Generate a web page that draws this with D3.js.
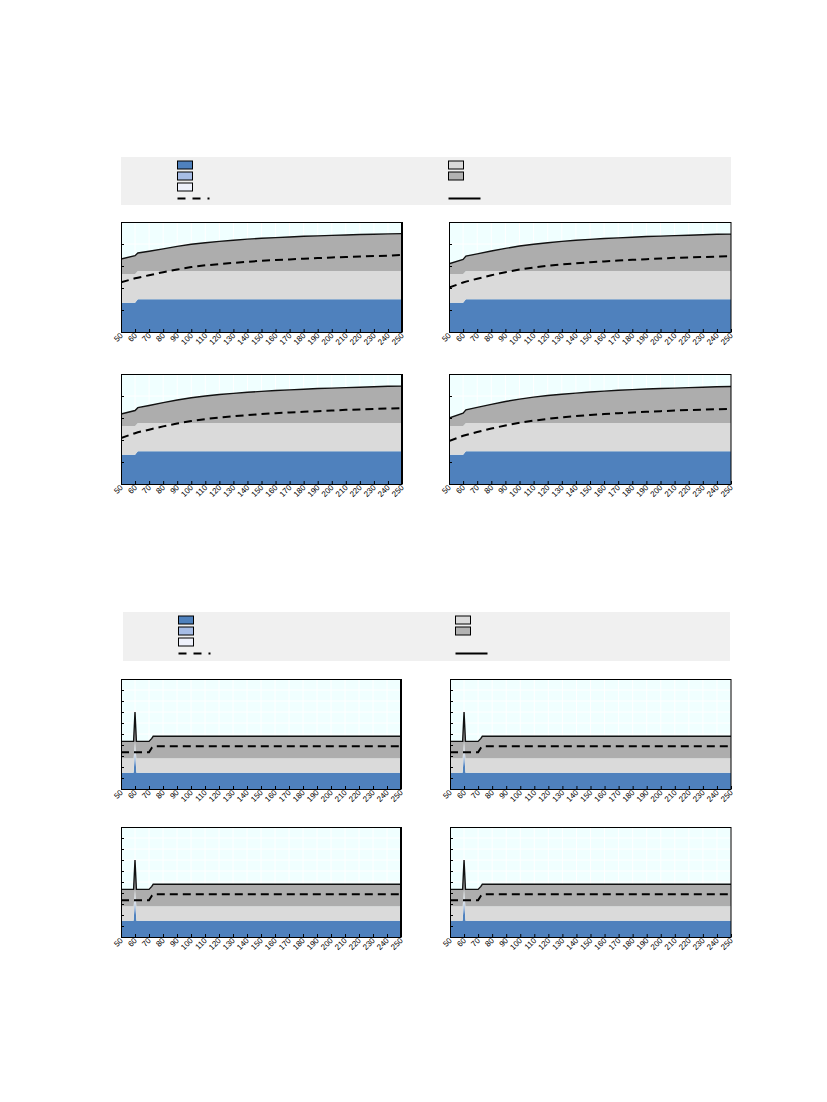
<!DOCTYPE html>
<html>
<head>
<meta charset="utf-8">
<script src="https://cdn.jsdelivr.net/npm/d3@7"></script>
<style>
  body { margin: 0; background: #fff; font-family: "Liberation Sans", Arial, sans-serif; }
</style>
</head>
<body>
<div id="chart"></div>
<script>

// x tick labels shared by every panel
const xTickLabels = [50, 60, 70, 80, 90, 100, 110, 120, 130, 140, 150, 160, 170, 180, 190, 200, 210, 220, 230, 240, 250];

// ---- upper group: smooth curves ----
const curveX = [50, 60, 62, 70, 80, 90, 100, 110, 120, 130, 140, 150, 160, 170, 180, 190, 200, 210, 220, 230, 240, 250];

const curveBlue  = [1.33, 1.33, 1.49, 1.49, 1.49, 1.49, 1.49, 1.49, 1.49, 1.49, 1.49, 1.49, 1.49, 1.49, 1.49, 1.49, 1.49, 1.49, 1.49, 1.49, 1.49, 1.49];
const curveLGrey = [2.64, 2.64, 2.77, 2.77, 2.77, 2.77, 2.77, 2.77, 2.77, 2.77, 2.77, 2.77, 2.77, 2.77, 2.77, 2.77, 2.77, 2.77, 2.77, 2.77, 2.77, 2.77];

const tlSolid  = [3.32, 3.47, 3.59, 3.67, 3.78, 3.89, 3.99, 4.06, 4.12, 4.17, 4.22, 4.26, 4.29, 4.32, 4.35, 4.37, 4.39, 4.41, 4.43, 4.44, 4.46, 4.47];
const tlDashed = [2.26, 2.44, 2.47, 2.58, 2.72, 2.84, 2.95, 3.03, 3.09, 3.14, 3.19, 3.24, 3.27, 3.30, 3.33, 3.36, 3.39, 3.41, 3.43, 3.45, 3.47, 3.50];

const trSolid  = [3.10, 3.30, 3.45, 3.55, 3.68, 3.80, 3.91, 3.99, 4.06, 4.12, 4.17, 4.21, 4.25, 4.28, 4.31, 4.34, 4.36, 4.38, 4.40, 4.42, 4.44, 4.45];
const trDashed = [2.02, 2.25, 2.29, 2.42, 2.58, 2.72, 2.84, 2.93, 3.01, 3.07, 3.12, 3.17, 3.21, 3.25, 3.28, 3.31, 3.34, 3.37, 3.39, 3.41, 3.43, 3.45];

const mlSolid  = [3.18, 3.34, 3.47, 3.57, 3.70, 3.82, 3.92, 4.00, 4.07, 4.12, 4.17, 4.21, 4.25, 4.28, 4.31, 4.34, 4.36, 4.38, 4.40, 4.42, 4.44, 4.45];
const mlDashed = [2.09, 2.31, 2.35, 2.47, 2.62, 2.75, 2.86, 2.95, 3.02, 3.08, 3.13, 3.18, 3.22, 3.25, 3.28, 3.31, 3.34, 3.37, 3.39, 3.41, 3.43, 3.45];

const mrSolid  = [3.00, 3.22, 3.37, 3.48, 3.62, 3.75, 3.86, 3.95, 4.02, 4.08, 4.13, 4.18, 4.22, 4.26, 4.29, 4.32, 4.34, 4.36, 4.38, 4.40, 4.42, 4.43];
const mrDashed = [1.95, 2.19, 2.23, 2.36, 2.52, 2.66, 2.78, 2.88, 2.96, 3.03, 3.09, 3.14, 3.18, 3.22, 3.25, 3.28, 3.31, 3.34, 3.36, 3.38, 3.40, 3.42];

// ---- lower group: flat with spike at 60 ----
const spikeX      = [50, 59, 60, 61, 70, 72, 73, 250];
const spikeBlue   = [1.48, 1.48, 3.27, 1.48, 1.48, 1.48, 1.48, 1.48];
const spikeLBlue  = [1.48, 1.48, 3.90, 1.48, 1.48, 1.48, 1.48, 1.48];
const spikePale   = [1.48, 1.48, 4.36, 1.48, 1.48, 1.48, 1.48, 1.48];
const spikeLGrey  = [2.79, 2.79, 4.36, 2.79, 2.79, 2.79, 2.79, 2.79];
const spikeSolid  = [4.33, 4.33, 7.00, 4.33, 4.33, 4.60, 4.79, 4.79];
const spikeDashed = [3.33, 3.33, 3.33, 3.33, 3.33, 3.75, 3.88, 3.88];

// colours
const colBlue = "#4f81bd", colLBlue = "#a7bde6", colPale = "#eef1fb",
      colLGrey = "#dadada", colGrey = "#adadad", colBg = "#f0ffff";


class BandPanel {

    constructor(svg, box, xs, bands, dashed, yMax, yStep, thickRight) {
        this.svg = svg;
        this.box = box;
        this.xs = xs;
        this.bands = bands;
        this.dashed = dashed;
        this.yMax = yMax;
        this.yStep = yStep;
        this.thickRight = thickRight;
    }

    initVis() {
        let vis = this;

        vis.width = vis.box.w;
        vis.height = vis.box.h;

        vis.g = vis.svg.append("g")
            .attr("transform", "translate(" + vis.box.x + "," + vis.box.y + ")");

        vis.x = d3.scaleLinear().domain([50, 250]).range([0, vis.width]);
        vis.y = d3.scaleLinear().domain([0, vis.yMax]).range([vis.height, 0]);

        vis.clipId = "clip" + Math.round(vis.box.x) + "_" + Math.round(vis.box.y);
        vis.g.append("clipPath").attr("id", vis.clipId)
            .append("rect").attr("width", vis.width).attr("height", vis.height);

        vis.g.append("rect")
            .attr("width", vis.width)
            .attr("height", vis.height)
            .attr("fill", colBg);

        vis.updateVis();
    }

    updateVis() {
        let vis = this;
        let yTicks = d3.range(0, vis.yMax + 0.001, vis.yStep);

        // white grid
        let grid = vis.g.append("g").attr("stroke", "#fff").attr("stroke-width", 1);
        grid.selectAll(".vg").data(xTickLabels).enter().append("line")
            .attr("x1", d => vis.x(d)).attr("x2", d => vis.x(d))
            .attr("y1", 0).attr("y2", vis.height);
        grid.selectAll(".hg").data(yTicks).enter().append("line")
            .attr("y1", d => vis.y(d)).attr("y2", d => vis.y(d))
            .attr("x1", 0).attr("x2", vis.width);

        // stacked bands between successive boundaries
        let plot = vis.g.append("g").attr("clip-path", "url(#" + vis.clipId + ")");
        let lower = vis.xs.map(() => 0);
        vis.bands.forEach(b => {
            let lo = lower;
            let area = d3.area()
                .x((d, i) => vis.x(vis.xs[i]))
                .y0((d, i) => vis.y(lo[i]))
                .y1((d, i) => vis.y(d));
            plot.append("path")
                .datum(b.values)
                .attr("d", area)
                .attr("fill", b.color);
            lower = b.values;
        });

        let line = d3.line().x((d, i) => vis.x(vis.xs[i])).y(d => vis.y(d));

        plot.append("path")
            .datum(vis.dashed)
            .attr("d", line)
            .attr("fill", "none")
            .attr("stroke", "#000")
            .attr("stroke-width", 2)
            .attr("stroke-dasharray", "8,5");

        plot.append("path")
            .datum(vis.bands[vis.bands.length - 1].values)
            .attr("d", line)
            .attr("fill", "none")
            .attr("stroke", "#111")
            .attr("stroke-width", 1.4);

        // frame
        vis.g.append("line").attr("x1", 0).attr("x2", vis.width).attr("y1", 0.5).attr("y2", 0.5)
            .attr("stroke", "#000");
        vis.g.append("line").attr("x1", vis.width).attr("x2", vis.width).attr("y1", 0).attr("y2", vis.height)
            .attr("stroke", "#000").attr("stroke-width", vis.thickRight ? 2 : 1);

        // axes
        vis.xAxis = d3.axisBottom(vis.x).tickValues(xTickLabels).tickSizeInner(-3).tickSizeOuter(0).tickPadding(6);
        vis.yAxis = d3.axisLeft(vis.y).tickValues(yTicks).tickSizeInner(-3).tickSizeOuter(0).tickFormat("");

        let xg = vis.g.append("g")
            .attr("transform", "translate(0," + vis.height + ")")
            .call(vis.xAxis);
        xg.selectAll("text")
            .attr("font-size", "8px")
            .attr("font-family", "Liberation Sans, Arial, sans-serif")
            .attr("fill", "#000")
            .attr("text-anchor", "end")
            .attr("dy", null)
            .attr("y", null)
            .attr("transform", "translate(2,4) rotate(-45)");

        vis.g.append("g").call(vis.yAxis);

        vis.g.selectAll(".domain").attr("stroke", "#000");
        vis.g.selectAll(".tick line").attr("stroke", "#000");
    }
}


function drawLegend(svg, box, leftX, rightX) {
    svg.append("rect")
        .attr("x", box.x).attr("y", box.y)
        .attr("width", box.w).attr("height", box.h)
        .attr("fill", "#f0f0f0");

    let swLeft = [colBlue, colLBlue, colPale];
    let swRight = [colLGrey, "#b2b2b2"];
    let top = box.y + 4;

    swLeft.forEach((c, i) => {
        svg.append("rect").attr("x", leftX).attr("y", top + i * 11)
            .attr("width", 15).attr("height", 8)
            .attr("fill", c).attr("stroke", "#000").attr("stroke-width", 1);
    });
    swRight.forEach((c, i) => {
        svg.append("rect").attr("x", rightX).attr("y", top + i * 11)
            .attr("width", 15).attr("height", 8)
            .attr("fill", c).attr("stroke", "#000").attr("stroke-width", 1);
    });

    let ly = box.y + 41.5;
    svg.append("line").attr("x1", leftX).attr("x2", leftX + 32).attr("y1", ly).attr("y2", ly)
        .attr("stroke", "#000").attr("stroke-width", 2).attr("stroke-dasharray", "8,7");
    svg.append("line").attr("x1", rightX).attr("x2", rightX + 32).attr("y1", ly).attr("y2", ly)
        .attr("stroke", "#000").attr("stroke-width", 2);
}


const svg = d3.select("#chart").append("svg")
    .attr("width", 827)
    .attr("height", 1102);

// upper legend and panels
drawLegend(svg, {x: 121, y: 157, w: 610, h: 48}, 177.5, 448.5);

const upperBands = (solid) => [
    {values: curveBlue, color: colBlue},
    {values: curveLGrey, color: colLGrey},
    {values: solid, color: colGrey}
];

new BandPanel(svg, {x: 121, y: 222, w: 281, h: 110}, curveX, upperBands(tlSolid), tlDashed, 5, 1, true).initVis();
new BandPanel(svg, {x: 449, y: 222, w: 282, h: 110}, curveX, upperBands(trSolid), trDashed, 5, 1, false).initVis();
new BandPanel(svg, {x: 121, y: 374, w: 281, h: 110}, curveX, upperBands(mlSolid), mlDashed, 5, 1, true).initVis();
new BandPanel(svg, {x: 449, y: 374, w: 282, h: 110}, curveX, upperBands(mrSolid), mrDashed, 5, 1, false).initVis();

// lower legend and panels
drawLegend(svg, {x: 123, y: 612, w: 607, h: 49}, 178.5, 455.5);

const lowerBands = [
    {values: spikeBlue, color: colBlue},
    {values: spikeLBlue, color: colLBlue},
    {values: spikePale, color: colPale},
    {values: spikeLGrey, color: colLGrey},
    {values: spikeSolid, color: colGrey}
];

new BandPanel(svg, {x: 121, y: 679, w: 280, h: 110}, spikeX, lowerBands, spikeDashed, 10, 1, true).initVis();
new BandPanel(svg, {x: 450, y: 679, w: 281, h: 110}, spikeX, lowerBands, spikeDashed, 10, 1, false).initVis();
new BandPanel(svg, {x: 121, y: 827, w: 280, h: 110}, spikeX, lowerBands, spikeDashed, 10, 1, true).initVis();
new BandPanel(svg, {x: 450, y: 827, w: 281, h: 110}, spikeX, lowerBands, spikeDashed, 10, 1, false).initVis();

</script>
</body>
</html>
